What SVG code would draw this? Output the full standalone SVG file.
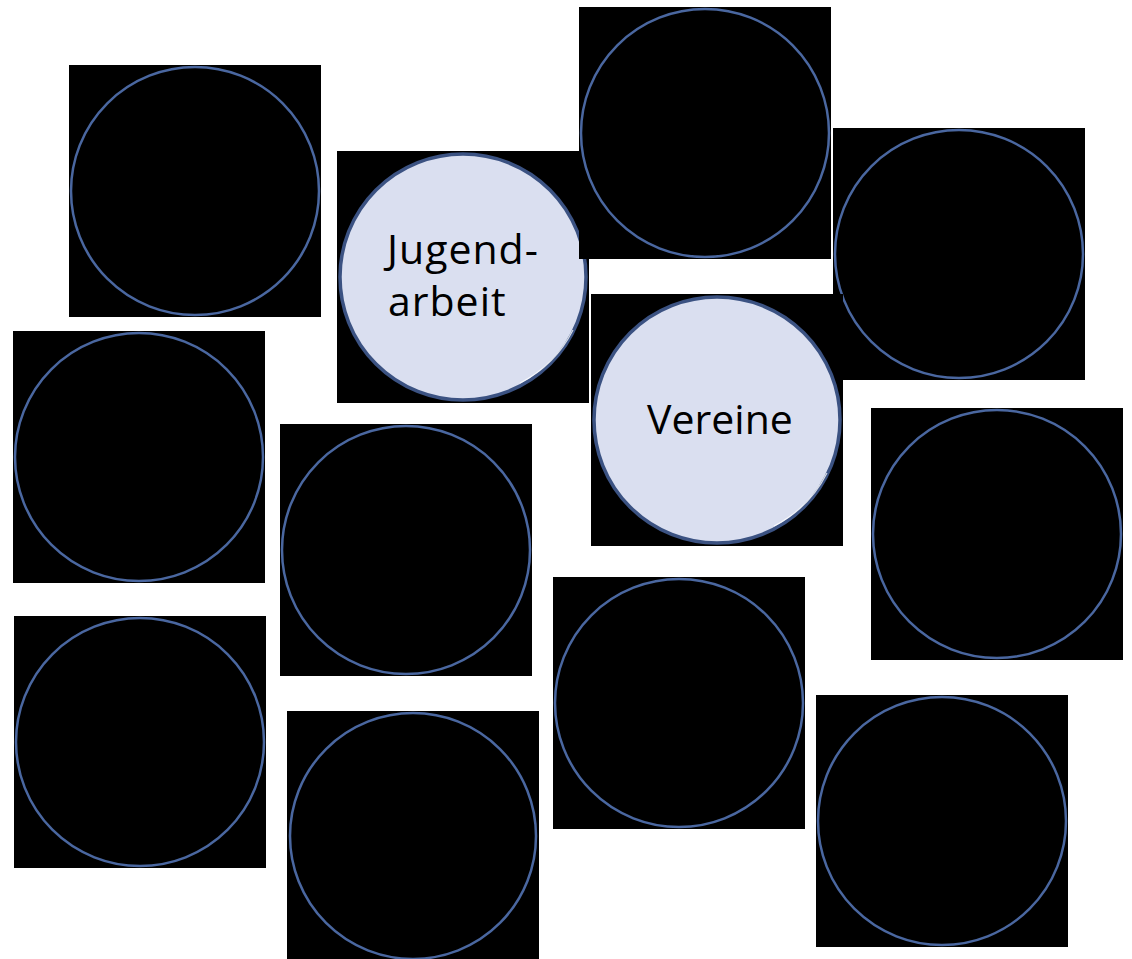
<svg xmlns="http://www.w3.org/2000/svg" width="1132" height="959" viewBox="0 0 1132 959">
  <style>
    .box { fill: #000000; }
    .ring { fill: #000000; stroke: #4a67a0; stroke-width: 2.5; }
    .hl { fill: #dadff0; stroke: #3b5282; stroke-width: 3.5; }
    .shine { fill: none; stroke: #ffffff; stroke-width: 1.2; opacity: 0.8; }
    .lbl { font-family: "Open Sans", "Liberation Sans", sans-serif; font-size: 41px; fill: #000000; }
  </style>
  <rect width="1132" height="959" fill="#ffffff"/>

  <g id="node-1">
    <rect class="box" x="69" y="65" width="252" height="252"/>
    <circle class="ring" cx="195" cy="191" r="124"/>
  </g>

  <g id="node-jugendarbeit">
    <rect class="box" x="337" y="151" width="252" height="252"/>
    <circle class="hl" cx="463" cy="277" r="123"/>
    <path class="shine" d="M 573 330 A 120 120 0 0 1 520 383"/>
    <text class="lbl" x="387" y="264" letter-spacing="1">Jugend-</text>
    <text class="lbl" x="388" y="316" letter-spacing="1">arbeit</text>
  </g>

  <g id="node-3">
    <rect class="box" x="579" y="7" width="252" height="252"/>
    <circle class="ring" cx="705" cy="133" r="124"/>
  </g>

  <g id="node-4">
    <rect class="box" x="833" y="128" width="252" height="252"/>
    <circle class="ring" cx="959" cy="254" r="124"/>
  </g>

  <g id="node-5">
    <rect class="box" x="13" y="331" width="252" height="252"/>
    <circle class="ring" cx="139" cy="457" r="124"/>
  </g>

  <g id="node-6">
    <rect class="box" x="280" y="424" width="252" height="252"/>
    <circle class="ring" cx="406" cy="550" r="124"/>
  </g>

  <g id="node-vereine">
    <rect class="box" x="591" y="294" width="252" height="252"/>
    <circle class="hl" cx="717" cy="420" r="123"/>
    <path class="shine" d="M 827 473 A 120 120 0 0 1 774 526"/>
    <text class="lbl" x="720" y="434" text-anchor="middle">Vereine</text>
  </g>

  <g id="node-8">
    <rect class="box" x="871" y="408" width="252" height="252"/>
    <circle class="ring" cx="997" cy="534" r="124"/>
  </g>

  <g id="node-9">
    <rect class="box" x="14" y="616" width="252" height="252"/>
    <circle class="ring" cx="140" cy="742" r="124"/>
  </g>

  <g id="node-10">
    <rect class="box" x="287" y="711" width="252" height="252"/>
    <circle class="ring" cx="413" cy="836" r="123"/>
  </g>

  <g id="node-11">
    <rect class="box" x="553" y="577" width="252" height="252"/>
    <circle class="ring" cx="679" cy="703" r="124"/>
  </g>

  <g id="node-12">
    <rect class="box" x="816" y="695" width="252" height="252"/>
    <circle class="ring" cx="942" cy="821" r="124"/>
  </g>
</svg>
